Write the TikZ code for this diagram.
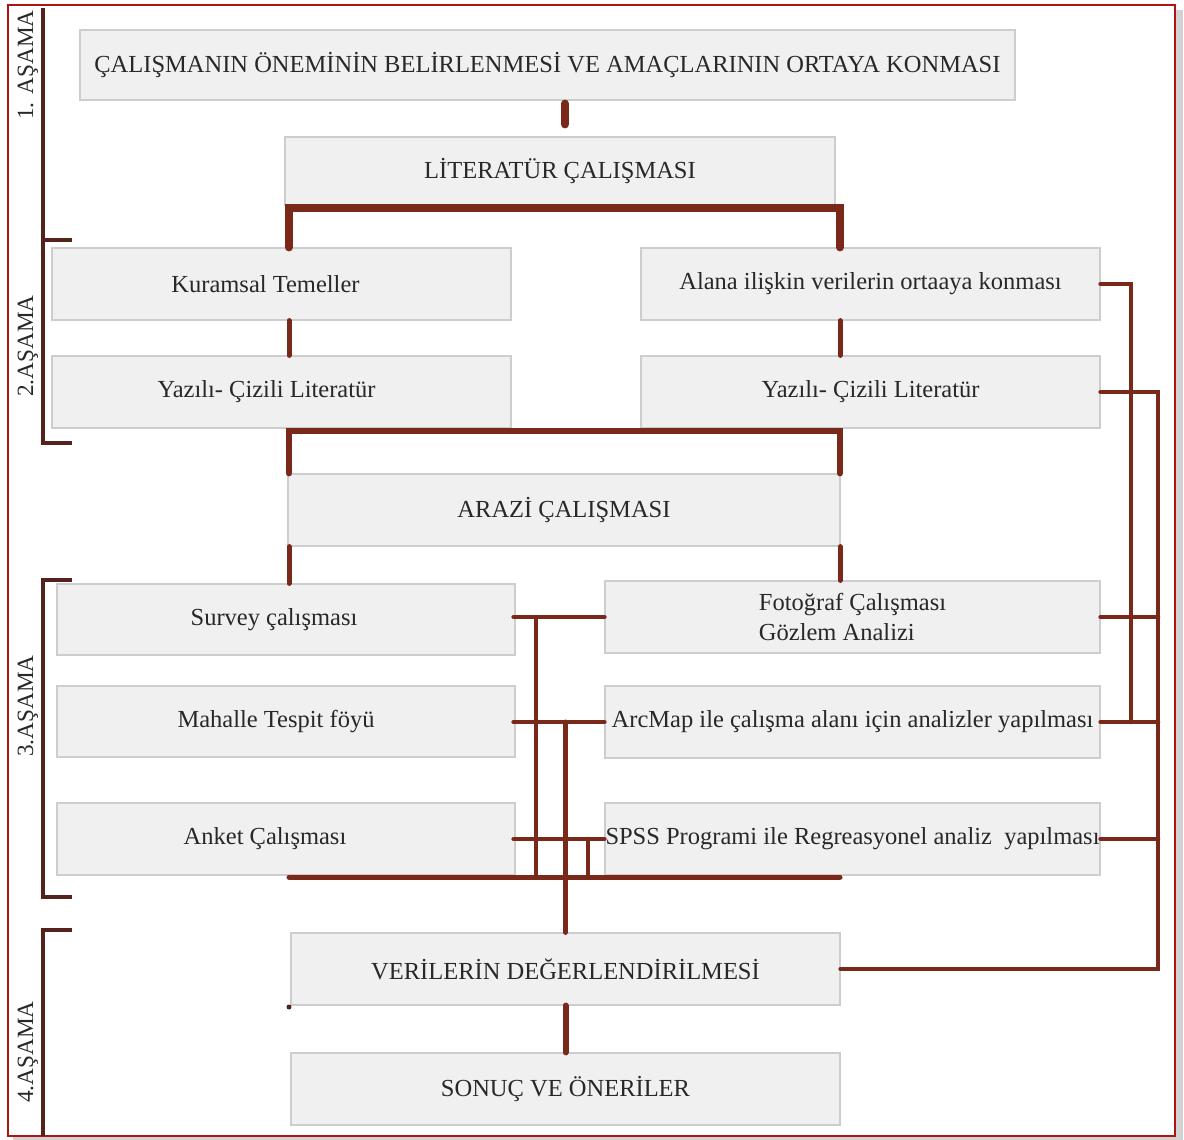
\documentclass[tikz,border=0pt]{standalone}
\usepackage{fontspec}
\setmainfont{Liberation Serif}
\definecolor{lnk}{RGB}{122,40,26}
\definecolor{brk}{RGB}{85,35,30}
\definecolor{boxfill}{RGB}{240,240,240}
\definecolor{boxline}{RGB}{205,205,205}
\definecolor{txt}{RGB}{40,40,40}
\definecolor{frame}{RGB}{175,20,20}
\newcommand{\shl}[1]{\hspace*{-#1pt}}
\begin{document}
\begin{tikzpicture}[x=1pt,y=-1pt,
  box/.style={draw=boxline, fill=boxfill, line width=1.2pt, inner sep=0pt,
    font=\fontsize{24.5}{30}\selectfont, text=txt},
  conn/.style={draw=lnk, line cap=round, line join=miter},
  brack/.style={draw=brk, line width=3.5pt},
  stage/.style={rotate=90, font=\fontsize{23.3}{27}\selectfont, text=txt, inner sep=0pt}]
\useasboundingbox (0,0) rectangle (1184,1140);
% frame with shadow
\fill[gray!35] (13,10) rectangle (1183,1140);
\draw[frame, fill=white, line width=2pt] (8,5) rectangle (1175,1136);

% boxes
\node[box, minimum width=935pt, minimum height=70pt] (top) at (547.5,65) {ÇALIŞMANIN ÖNEMİNİN BELİRLENMESİ VE AMAÇLARININ ORTAYA KONMASI};
\node[box, minimum width=550pt, minimum height=68pt] (lit) at (560,171) {LİTERATÜR ÇALIŞMASI};
\node[box, minimum width=459pt, minimum height=72pt] (kur) at (281.5,284) {\shl{32}Kuramsal Temeller};
\node[box, minimum width=459pt, minimum height=72pt] (alan) at (870.5,284) {Alana ilişkin verilerin ortaaya konması};
\node[box, minimum width=459pt, minimum height=72pt] (yazL) at (281.5,392) {\shl{30}Yazılı- Çizili Literatür};
\node[box, minimum width=459pt, minimum height=72pt] (yazR) at (870.5,392) {Yazılı- Çizili Literatür};
\node[box, minimum width=552pt, minimum height=72pt] (arazi) at (564,510) {ARAZİ ÇALIŞMASI};
\node[box, minimum width=458pt, minimum height=71pt] (surv) at (286,619.5) {\shl{24}Survey çalışması};
\node[box, minimum width=495pt, minimum height=72pt, align=left] (foto) at (852.5,617) {Fotoğraf Çalışması\\Gözlem Analizi};
\node[box, minimum width=458pt, minimum height=71pt] (mah) at (286,721.5) {\shl{20}Mahalle Tespit föyü};
\node[box, minimum width=495pt, minimum height=72pt] (arc) at (852.5,722) {ArcMap ile çalışma alanı için analizler yapılması};
\node[box, minimum width=458pt, minimum height=72pt] (ank) at (286,839) {\shl{42}Anket Çalışması};
\node[box, minimum width=495pt, minimum height=72pt] (spss) at (852.5,839) {SPSS Programi ile Regreasyonel analiz\ \ yapılması};
\node[box, minimum width=549pt, minimum height=72pt] (ver) at (565.5,969) {VERİLERİN DEĞERLENDİRİLMESİ};
\node[box, minimum width=549pt, minimum height=72pt] (son) at (565.5,1089) {SONUÇ VE ÖNERİLER};

% stage labels
\node[stage] (s1) at (28,65) {1. AŞAMA};
\node[stage] (s2) at (28,346) {2.AŞAMA};
\node[stage] (s3) at (28,706) {3.AŞAMA};
\node[stage] (s4) at (28,1052) {4.AŞAMA};

% brackets
\draw[brack] (43,8) -- (43,443) -- (72,443);
\draw[brack] (43,240) -- (72,240);
\draw[brack] (72,580) -- (43,580) -- (43,897) -- (72,897);
\draw[brack] (72,930) -- (43,930) -- (43,1136);

% helper columns / rows
\coordinate (xa) at (289,0);
\coordinate (xb) at (840,0);
\coordinate (xm) at (565,0);
\coordinate (xv1) at (536,0);
\coordinate (xv3) at (588,0);
\coordinate (xr1) at (1131,0);
\coordinate (xr2) at (1158,0);
\coordinate (ylit) at (0,208);
\coordinate (yar) at (0,431);
\coordinate (bus) at (0,877);

% top part
\draw[conn, line width=8pt] ([yshift=-3pt]top.south -| xm) -- ([yshift=12pt]lit.north -| xm);
\draw[conn, line width=8pt] (kur.north -| xa) -- (xa |- ylit) -- (xb |- ylit) -- (alan.north -| xb);
\draw[conn, line width=5pt] (kur.south -| xa) -- (yazL.north -| xa);
\draw[conn, line width=5pt] (alan.south -| xb) -- (yazR.north -| xb);
\draw[conn, line width=6pt] (arazi.north -| xa) -- (xa |- yar) -- (xb |- yar) -- (arazi.north -| xb);
\draw[conn, line width=5pt] (arazi.south -| xa) -- (surv.north -| xa);
\draw[conn, line width=5pt] (arazi.south -| xb) -- (foto.north -| xb);

% middle bus
\draw[conn, line width=4.5pt] ([xshift=-2pt]surv.east |- foto.west) -- (foto.west);
\draw[conn, line width=4.5pt] ([xshift=-2pt]mah.east |- arc.west) -- (arc.west);
\draw[conn, line width=4.5pt] ([xshift=-2pt]ank.east |- spss.west) -- (spss.west);
\draw[conn, line width=4.5pt] (xv1 |- foto.west) -- (xv1 |- bus);
\draw[conn, line width=4.5pt] (xv3 |- spss.west) -- (xv3 |- bus);
\draw[conn, line width=5pt] (xa |- bus) -- (xb |- bus);
\draw[conn, line width=5pt] (ver.north |- arc.west) -- (ver.north);

% right side
\draw[conn, line width=4.5pt] (alan.east) -- (xr1 |- alan.east) -- (xr1 |- arc.east);
\draw[conn, line width=4.5pt] (yazR.east) -- (xr2 |- yazR.east) -- (xr2 |- ver.east) -- (ver.east);
\draw[conn, line width=4.5pt] (foto.east) -- (xr2 |- foto.east);
\draw[conn, line width=4.5pt] (arc.east) -- (xr2 |- arc.east);
\draw[conn, line width=4.5pt] (spss.east) -- (xr2 |- spss.east);

% bottom
\draw[conn, line width=6pt] (ver.south) -- (son.north);
\fill[brk] (289,1007) circle (2.5pt);
\end{tikzpicture}
\end{document}
